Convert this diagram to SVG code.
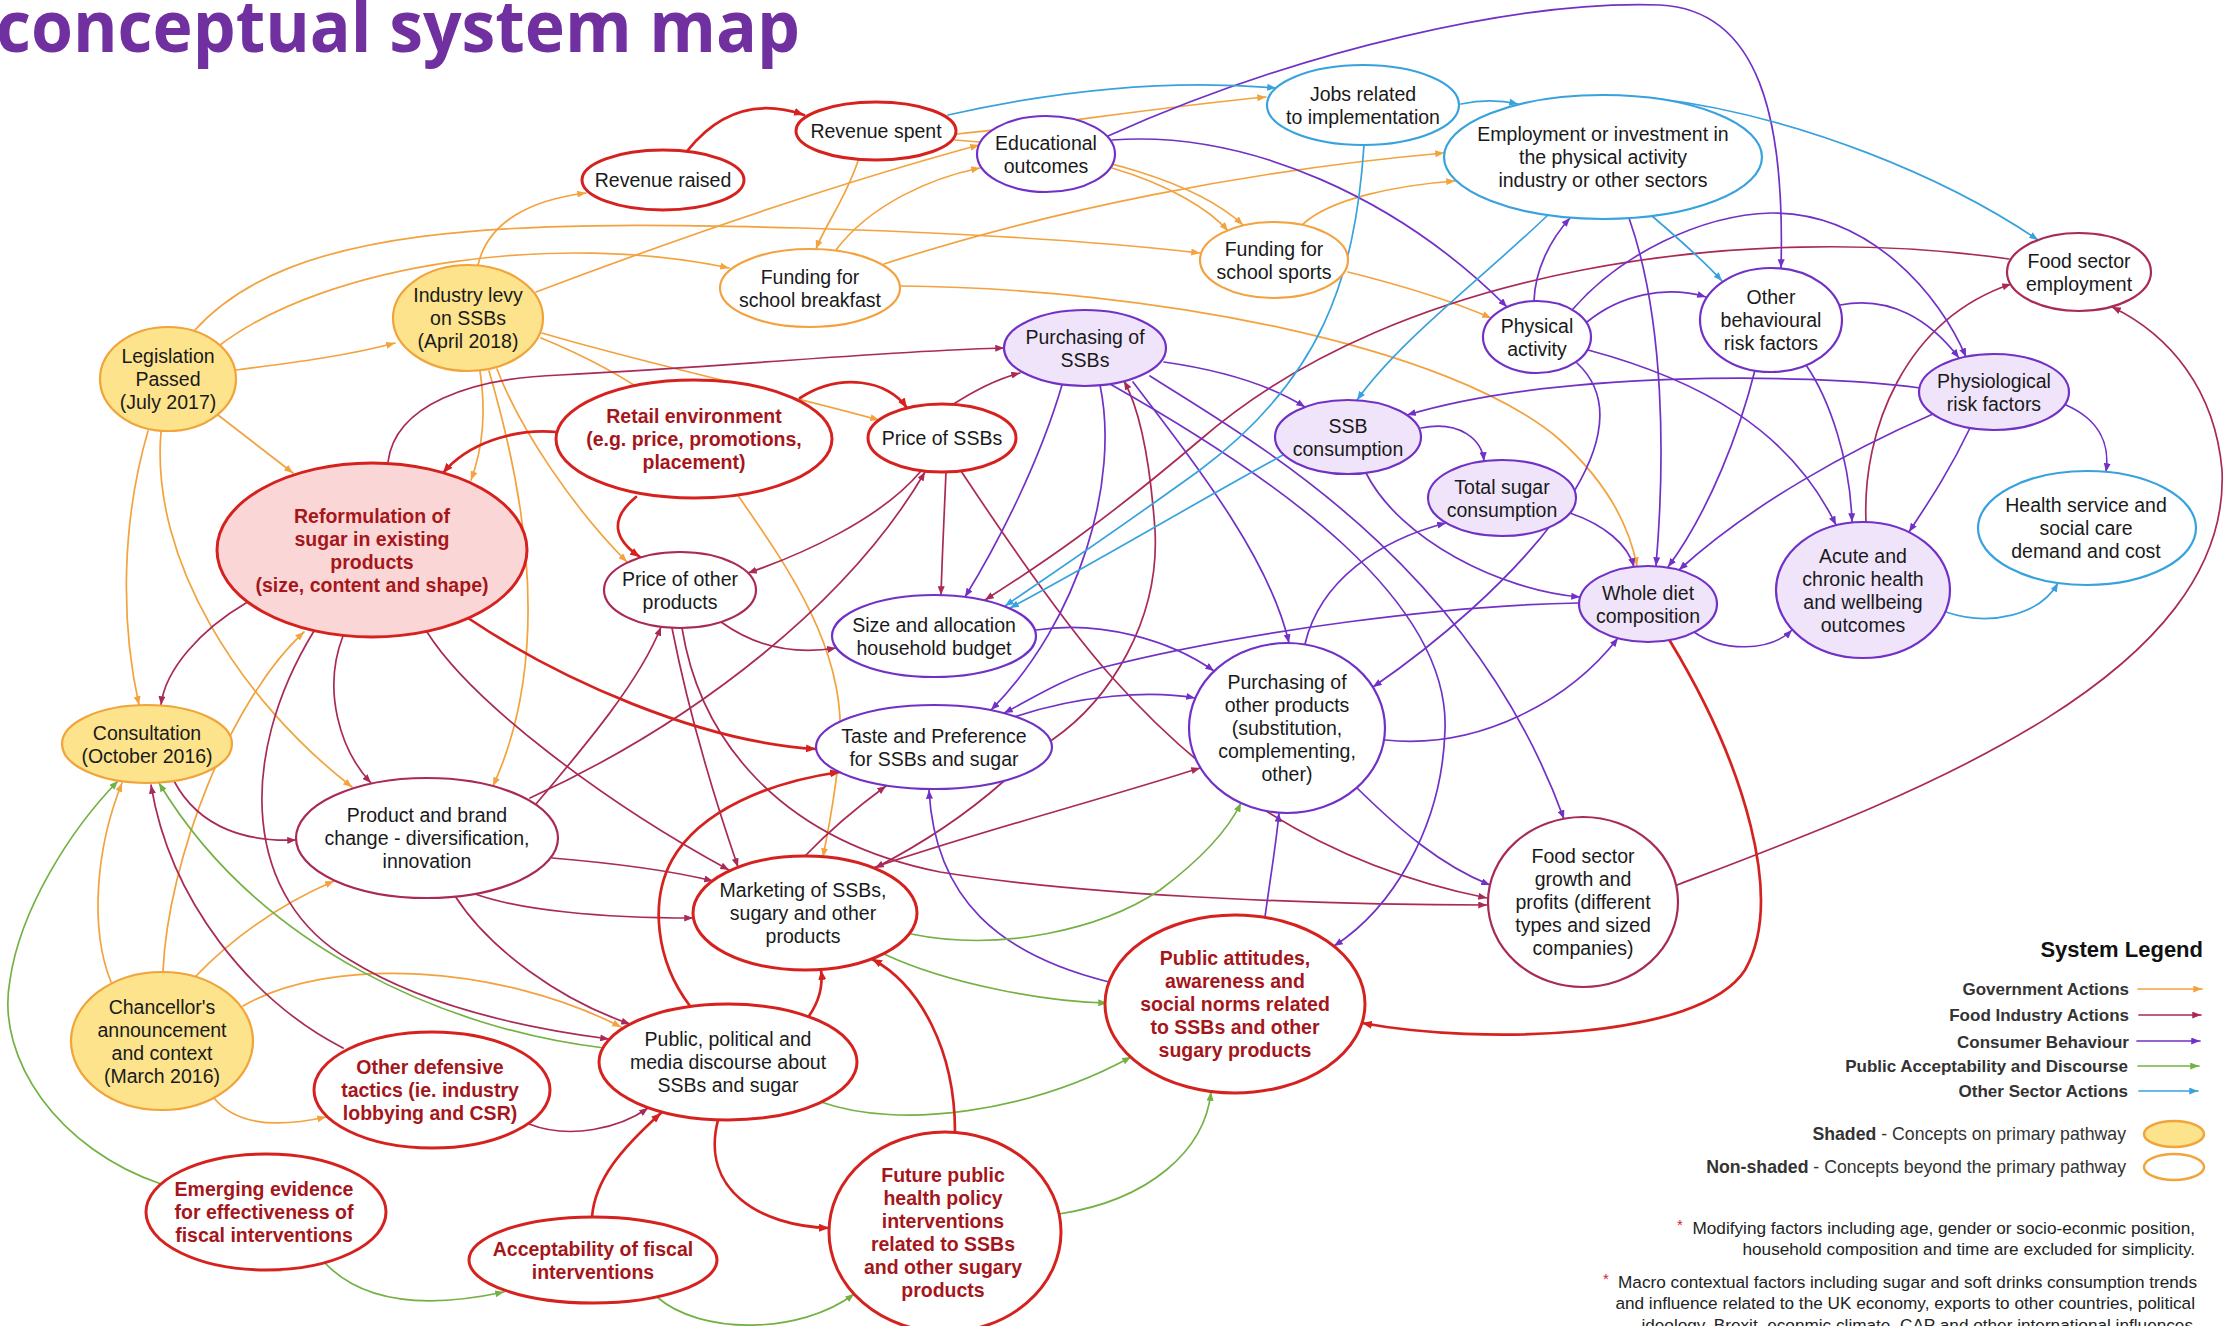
<svg xmlns="http://www.w3.org/2000/svg" width="2227" height="1326" viewBox="0 0 2227 1326">
<defs>
<style>
.e{fill:none;stroke-width:1.7;stroke-linecap:round}
.gov{stroke:#F3A23E;marker-end:url(#mk-gov)}
.food{stroke:#A92A57;marker-end:url(#mk-food)}
.cons{stroke:#7231C6;marker-end:url(#mk-cons)}
.pub{stroke:#74B144;marker-end:url(#mk-pub)}
.oth{stroke:#38A2DE;marker-end:url(#mk-oth)}
.red{stroke:#D6221F;stroke-width:2.7;marker-end:url(#mk-red)}
.nr{fill:#fff;stroke:#D6221F;stroke-width:3}
.nrf{fill:#FBD6D6;stroke:#D6221F;stroke-width:3}
.nf{fill:#fff;stroke:#A92A57;stroke-width:2.2}
.np{fill:#fff;stroke:#7231C6;stroke-width:2.2}
.nl{fill:#F0E4FA;stroke:#7231C6;stroke-width:2.2}
.nb{fill:#fff;stroke:#38A2DE;stroke-width:2.2}
.no{fill:#fff;stroke:#F3A23E;stroke-width:2.2}
.ny{fill:#FCE38C;stroke:#F0A43A;stroke-width:2.2}
.t{font-family:"Liberation Sans",Arial,sans-serif;font-size:19.5px;text-anchor:middle;fill:#1a1a1a}
.b{font-weight:bold;fill:#A5161B}
.lg{font-family:"Liberation Sans",Arial,sans-serif;font-size:17px;font-weight:bold;text-anchor:end;fill:#333}
.fn{font-family:"Liberation Sans",Arial,sans-serif;font-size:17.2px;text-anchor:end;fill:#222}
.sh{font-family:"Liberation Sans",Arial,sans-serif;font-size:17.7px;text-anchor:end;fill:#333}
.ast{font-family:"Liberation Sans",Arial,sans-serif;font-size:15px;fill:#D6221F}
</style>
<marker id="mk-gov" viewBox="0 0 10 8" refX="10" refY="4" markerWidth="9" markerHeight="7" markerUnits="userSpaceOnUse" orient="auto"><path d="M0,0 L10,4 L0,8 z" fill="#F3A23E"/></marker>
<marker id="mk-food" viewBox="0 0 10 8" refX="10" refY="4" markerWidth="9" markerHeight="7" markerUnits="userSpaceOnUse" orient="auto"><path d="M0,0 L10,4 L0,8 z" fill="#A92A57"/></marker>
<marker id="mk-cons" viewBox="0 0 10 8" refX="10" refY="4" markerWidth="9" markerHeight="7" markerUnits="userSpaceOnUse" orient="auto"><path d="M0,0 L10,4 L0,8 z" fill="#7231C6"/></marker>
<marker id="mk-pub" viewBox="0 0 10 8" refX="10" refY="4" markerWidth="9" markerHeight="7" markerUnits="userSpaceOnUse" orient="auto"><path d="M0,0 L10,4 L0,8 z" fill="#74B144"/></marker>
<marker id="mk-oth" viewBox="0 0 10 8" refX="10" refY="4" markerWidth="9" markerHeight="7" markerUnits="userSpaceOnUse" orient="auto"><path d="M0,0 L10,4 L0,8 z" fill="#38A2DE"/></marker>
<marker id="mk-red" viewBox="0 0 10 8" refX="10" refY="4" markerWidth="10" markerHeight="8" markerUnits="userSpaceOnUse" orient="auto"><path d="M0,0 L10,4 L0,8 z" fill="#D6221F"/></marker>
</defs>
<rect width="2227" height="1326" fill="#fff"/>

<text x="-4" y="52" font-family="'Open Sans','Noto Sans',sans-serif" font-weight="700" font-size="71" fill="#7030A0" textLength="804" lengthAdjust="spacingAndGlyphs">conceptual system map</text>

<g id="connectors">
<!-- government actions -->
<path class="e gov" d="M478,265 C488,222 530,200 586,193"/>
<path class="e gov" d="M195,330 C290,225 500,220 800,228 C1000,234 1130,245 1200,253"/>
<path class="e gov" d="M220,345 C330,262 560,232 729,268"/>
<path class="e gov" d="M236,370 C300,362 350,355 395,343"/>
<path class="e gov" d="M148,431 C122,520 120,620 139,705"/>
<path class="e gov" d="M161,432 C150,560 240,700 352,787"/>
<path class="e gov" d="M218,415 L293,473"/>
<path class="e gov" d="M536,292 C700,230 850,180 979,145"/>
<path class="e gov" d="M480,371 C486,410 484,445 471,480"/>
<path class="e gov" d="M489,371 C515,460 560,640 493,786"/>
<path class="e gov" d="M497,369 C520,430 575,510 627,562"/>
<path class="e gov" d="M541,338 C620,370 720,430 739,497 C790,570 845,650 840,740 C837,790 828,830 823,857"/>
<path class="e gov" d="M542,333 C650,365 790,395 879,420"/>
<path class="e gov" d="M957,134 C1050,125 1150,108 1266,97"/>
<path class="e gov" d="M858,161 C845,200 825,225 816,249"/>
<path class="e gov" d="M884,264 C1050,210 1250,170 1444,153"/>
<path class="e gov" d="M836,250 C870,205 930,178 980,168"/>
<path class="e gov" d="M1302,225 C1330,198 1400,185 1455,181"/>
<path class="e gov" d="M955,140 C1100,150 1200,185 1243,225"/>
<path class="e gov" d="M1112,168 C1170,185 1210,210 1228,231"/>
<path class="e gov" d="M1348,272 C1400,285 1450,300 1491,318"/>
<path class="e gov" d="M900,286 C1150,288 1450,345 1560,440 C1610,485 1630,530 1637,566"/>
<path class="e gov" d="M111,982 C90,930 95,850 122,783"/>
<path class="e gov" d="M163,971 C168,860 230,700 304,632"/>
<path class="e gov" d="M195,977 C240,930 290,900 334,881"/>
<path class="e gov" d="M243,1006 C330,955 500,965 621,1027"/>
<path class="e gov" d="M214,1098 C240,1130 290,1125 326,1117"/>

<!-- food industry actions -->
<path class="e food" d="M388,462 C395,405 470,378 560,375 C750,365 900,350 1004,348"/>
<path class="e food" d="M246,603 C200,630 165,670 161,705"/>
<path class="e food" d="M343,636 C322,690 340,750 371,783"/>
<path class="e food" d="M427,632 C470,700 600,800 729,870"/>
<path class="e food" d="M314,631 C235,760 245,900 350,960 C430,1010 540,1030 609,1039"/>
<path class="e food" d="M530,798 C700,720 850,600 925,472"/>
<path class="e food" d="M536,804 C590,740 640,680 661,627"/>
<path class="e food" d="M552,858 C600,862 660,868 713,881"/>
<path class="e food" d="M475,894 C520,910 600,918 693,918"/>
<path class="e food" d="M455,896 C490,950 560,1000 630,1024"/>
<path class="e food" d="M682,628 C700,740 780,840 940,872 C1100,898 1350,905 1487,905"/>
<path class="e food" d="M672,628 C690,720 715,800 738,867"/>
<path class="e food" d="M721,622 C760,650 800,654 836,648"/>
<path class="e food" d="M952,405 C975,390 1000,378 1020,373"/>
<path class="e food" d="M946,472 C944,520 942,560 941,595"/>
<path class="e food" d="M921,471 C880,520 800,555 748,573"/>
<path class="e food" d="M961,471 C1020,560 1070,630 1110,675 C1190,765 1300,860 1487,898"/>
<path class="e food" d="M2009,259 C1750,222 1400,265 1200,440 C1100,525 1040,565 985,600"/>
<path class="e food" d="M1677,885 C1900,800 2232,680 2222,470 C2215,390 2170,335 2112,307"/>
<path class="e food" d="M1866,522 C1862,430 1905,320 2011,284"/>
<path class="e food" d="M343,1048 C250,1000 170,900 151,785"/>
<path class="e food" d="M529,1124 C570,1140 620,1128 648,1108"/>
<path class="e food" d="M174,781 C200,830 250,842 296,840"/>
<path class="e food" d="M1052,740 C1110,700 1160,620 1155,530 C1150,460 1140,410 1124,381"/>
<path class="e food" d="M805,856 C830,830 860,805 886,786"/>
<path class="e food" d="M1004,781 C960,820 910,850 875,868"/>
<path class="e food" d="M873,868 C950,840 1100,800 1200,768"/>

<!-- consumer behaviour -->
<path class="e cons" d="M1112,140 C1250,130 1400,200 1507,307"/>
<path class="e cons" d="M1108,136 C1300,50 1520,0 1660,5 C1760,10 1785,120 1781,268"/>
<path class="e cons" d="M1164,362 C1220,370 1270,385 1305,407"/>
<path class="e cons" d="M1062,385 C1040,460 1000,540 965,597"/>
<path class="e cons" d="M1100,385 C1120,480 1080,620 991,710"/>
<path class="e cons" d="M1579,603 C1450,605 1250,630 1100,668 C1060,680 1030,700 1004,713"/>
<path class="e cons" d="M1014,717 C1080,695 1150,690 1195,698"/>
<path class="e cons" d="M1036,630 C1100,620 1170,640 1214,671"/>
<path class="e cons" d="M1133,382 C1200,470 1270,560 1289,643"/>
<path class="e cons" d="M1150,376 C1250,440 1470,560 1564,819"/>
<path class="e cons" d="M1110,384 C1280,480 1450,600 1445,730 C1442,830 1390,910 1334,946"/>
<path class="e cons" d="M1265,917 C1270,880 1276,845 1279,813"/>
<path class="e cons" d="M1109,982 C1000,955 935,900 929,790"/>
<path class="e cons" d="M1305,644 C1320,580 1380,540 1446,523"/>
<path class="e cons" d="M1385,740 C1480,750 1570,700 1618,638"/>
<path class="e cons" d="M1357,788 C1400,830 1440,865 1490,885"/>
<path class="e cons" d="M1366,473 C1400,540 1500,590 1580,597"/>
<path class="e cons" d="M1421,428 C1460,420 1482,440 1484,461"/>
<path class="e cons" d="M1570,513 C1605,525 1628,545 1634,567"/>
<path class="e cons" d="M1577,363 C1660,440 1500,600 1373,687"/>
<path class="e cons" d="M1629,218 C1665,320 1665,460 1656,566"/>
<path class="e cons" d="M1534,301 C1535,270 1550,240 1570,218"/>
<path class="e cons" d="M1573,309 C1620,255 1700,215 1771,213 C1870,212 1940,295 1966,357"/>
<path class="e cons" d="M1587,322 C1620,295 1665,285 1706,297"/>
<path class="e cons" d="M1588,350 C1700,380 1790,430 1836,525"/>
<path class="e cons" d="M1806,365 C1830,400 1850,460 1852,522"/>
<path class="e cons" d="M1755,370 C1740,430 1710,510 1668,567"/>
<path class="e cons" d="M1933,414 C1850,450 1750,505 1679,570"/>
<path class="e cons" d="M1970,428 C1950,470 1930,500 1909,532"/>
<path class="e cons" d="M1920,388 C1800,372 1550,372 1407,415"/>
<path class="e cons" d="M2066,405 C2100,420 2110,445 2106,472"/>
<path class="e cons" d="M1840,305 C1890,295 1930,320 1959,358"/>
<path class="e cons" d="M1694,632 C1722,652 1770,652 1792,630"/>

<!-- public acceptability and discourse -->
<path class="e pub" d="M161,1184 C60,1150 -5,1060 10,980 C20,910 70,830 118,781"/>
<path class="e pub" d="M604,1048 C450,1030 260,950 159,783"/>
<path class="e pub" d="M911,934 C1000,952 1100,930 1160,890 C1200,860 1228,830 1241,803"/>
<path class="e pub" d="M884,954 C950,985 1050,1002 1107,1003"/>
<path class="e pub" d="M821,1102 C900,1130 1030,1112 1131,1057"/>
<path class="e pub" d="M1059,1214 C1150,1200 1205,1150 1211,1092"/>
<path class="e pub" d="M657,1297 C700,1335 800,1335 854,1294"/>
<path class="e pub" d="M325,1263 C360,1300 420,1310 504,1292"/>

<!-- other sector actions -->
<path class="e oth" d="M948,115 C1050,92 1160,78 1276,88"/>
<path class="e oth" d="M1461,104 C1480,100 1500,100 1518,104"/>
<path class="e oth" d="M1652,98 C1800,115 1950,180 2038,240"/>
<path class="e oth" d="M1652,216 C1680,240 1705,262 1722,281"/>
<path class="e oth" d="M1548,215 C1480,280 1400,340 1357,400"/>
<path class="e oth" d="M1364,145 C1355,280 1320,380 1200,470 C1110,535 1050,575 1005,606"/>
<path class="e oth" d="M1283,455 C1200,500 1100,560 1010,608"/>
<path class="e oth" d="M1946,612 C1990,627 2040,615 2058,583"/>

<!-- primary red links -->
<path class="e red" d="M688,150 C720,110 760,100 804,115"/>
<path class="e red" d="M557,432 C515,428 468,443 443,473"/>
<path class="e red" d="M800,398 C840,372 888,380 907,408"/>
<path class="e red" d="M636,497 C608,520 615,540 640,557"/>
<path class="e red" d="M468,618 C560,680 700,742 816,749"/>
<path class="e red" d="M690,1006 C655,960 650,900 672,860 C700,810 770,782 840,772"/>
<path class="e red" d="M809,1016 C820,1000 823,985 821,970"/>
<path class="e red" d="M718,1120 C700,1190 760,1226 829,1228"/>
<path class="e red" d="M955,1132 C955,1050 920,985 872,959"/>
<path class="e red" d="M592,1217 C595,1180 620,1150 661,1113"/>
<path class="e red" d="M1670,641 C1745,765 1785,900 1745,970 C1700,1040 1480,1045 1362,1023"/>
</g>

<g id="n-revenue-raised"><ellipse class="nr" cx="663" cy="180" rx="81" ry="30"/><text class="t"><tspan x="663" y="187">Revenue raised</tspan></text></g>
<g id="n-revenue-spent"><ellipse class="nr" cx="876" cy="131" rx="80" ry="29"/><text class="t"><tspan x="876" y="138">Revenue spent</tspan></text></g>
<g id="n-educational-outcomes"><ellipse class="np" cx="1046" cy="154" rx="69" ry="38"/><text class="t"><tspan x="1046" y="149.5">Educational</tspan><tspan x="1046" y="172.5">outcomes</tspan></text></g>
<g id="n-jobs"><ellipse class="nb" cx="1363" cy="105" rx="96" ry="40"/><text class="t"><tspan x="1363" y="100.5">Jobs related</tspan><tspan x="1363" y="123.5">to implementation</tspan></text></g>
<g id="n-employment"><ellipse class="nb" cx="1603" cy="157" rx="159" ry="62"/><text class="t"><tspan x="1603" y="141">Employment or investment in</tspan><tspan x="1603" y="164">the physical activity</tspan><tspan x="1603" y="187">industry or other sectors</tspan></text></g>
<g id="n-funding-sports"><ellipse class="no" cx="1274" cy="260" rx="74" ry="38"/><text class="t"><tspan x="1274" y="255.5">Funding for</tspan><tspan x="1274" y="278.5">school sports</tspan></text></g>
<g id="n-funding-breakfast"><ellipse class="no" cx="810" cy="288" rx="90" ry="39"/><text class="t"><tspan x="810" y="283.5">Funding for</tspan><tspan x="810" y="306.5">school breakfast</tspan></text></g>
<g id="n-industry-levy"><ellipse class="ny" cx="468" cy="318" rx="75" ry="53"/><text class="t"><tspan x="468" y="302">Industry levy</tspan><tspan x="468" y="325">on SSBs</tspan><tspan x="468" y="348">(April 2018)</tspan></text></g>
<g id="n-legislation"><ellipse class="ny" cx="168" cy="379" rx="68" ry="52"/><text class="t"><tspan x="168" y="363">Legislation</tspan><tspan x="168" y="386">Passed</tspan><tspan x="168" y="409">(July 2017)</tspan></text></g>
<g id="n-purchasing-ssbs"><ellipse class="nl" cx="1085" cy="348" rx="81" ry="38"/><text class="t"><tspan x="1085" y="343.5">Purchasing of</tspan><tspan x="1085" y="366.5">SSBs</tspan></text></g>
<g id="n-retail"><ellipse class="nr" cx="694" cy="439" rx="138" ry="59"/><text class="t b"><tspan x="694" y="423">Retail environment</tspan><tspan x="694" y="446">(e.g. price, promotions,</tspan><tspan x="694" y="469">placement)</tspan></text></g>
<g id="n-price-ssbs"><ellipse class="nr" cx="942" cy="438" rx="74" ry="34"/><text class="t"><tspan x="942" y="445">Price of SSBs</tspan></text></g>
<g id="n-reformulation"><ellipse class="nrf" cx="372" cy="550" rx="155" ry="87"/><text class="t b"><tspan x="372" y="522.5">Reformulation of</tspan><tspan x="372" y="545.5">sugar in existing</tspan><tspan x="372" y="568.5">products</tspan><tspan x="372" y="591.5">(size, content and shape)</tspan></text></g>
<g id="n-price-other"><ellipse class="nf" cx="680" cy="590" rx="76" ry="38"/><text class="t"><tspan x="680" y="585.5">Price of other</tspan><tspan x="680" y="608.5">products</tspan></text></g>
<g id="n-budget"><ellipse class="np" cx="934" cy="636" rx="102" ry="41"/><text class="t"><tspan x="934" y="631.5">Size and allocation</tspan><tspan x="934" y="654.5">household budget</tspan></text></g>
<g id="n-taste"><ellipse class="np" cx="934" cy="747" rx="118" ry="42"/><text class="t"><tspan x="934" y="742.5">Taste and Preference</tspan><tspan x="934" y="765.5">for SSBs and sugar</tspan></text></g>
<g id="n-ssb-consumption"><ellipse class="nl" cx="1348" cy="437" rx="73" ry="37"/><text class="t"><tspan x="1348" y="432.5">SSB</tspan><tspan x="1348" y="455.5">consumption</tspan></text></g>
<g id="n-total-sugar"><ellipse class="nl" cx="1502" cy="498" rx="74" ry="38"/><text class="t"><tspan x="1502" y="493.5">Total sugar</tspan><tspan x="1502" y="516.5">consumption</tspan></text></g>
<g id="n-physical-activity"><ellipse class="np" cx="1537" cy="337" rx="54" ry="36"/><text class="t"><tspan x="1537" y="332.5">Physical</tspan><tspan x="1537" y="355.5">activity</tspan></text></g>
<g id="n-other-behavioural"><ellipse class="np" cx="1771" cy="320" rx="71" ry="52"/><text class="t"><tspan x="1771" y="304">Other</tspan><tspan x="1771" y="327">behavioural</tspan><tspan x="1771" y="350">risk factors</tspan></text></g>
<g id="n-food-employment"><ellipse class="nf" cx="2079" cy="272" rx="72" ry="39"/><text class="t"><tspan x="2079" y="267.5">Food sector</tspan><tspan x="2079" y="290.5">employment</tspan></text></g>
<g id="n-physiological"><ellipse class="nl" cx="1994" cy="392" rx="75" ry="38"/><text class="t"><tspan x="1994" y="387.5">Physiological</tspan><tspan x="1994" y="410.5">risk factors</tspan></text></g>
<g id="n-whole-diet"><ellipse class="nl" cx="1648" cy="604" rx="69" ry="38"/><text class="t"><tspan x="1648" y="599.5">Whole diet</tspan><tspan x="1648" y="622.5">composition</tspan></text></g>
<g id="n-acute"><ellipse class="nl" cx="1863" cy="590" rx="87" ry="68"/><text class="t"><tspan x="1863" y="562.5">Acute and</tspan><tspan x="1863" y="585.5">chronic health</tspan><tspan x="1863" y="608.5">and wellbeing</tspan><tspan x="1863" y="631.5">outcomes</tspan></text></g>
<g id="n-health-service"><ellipse class="nb" cx="2087" cy="528" rx="109" ry="57"/><text class="t"><tspan x="2086" y="512">Health service and</tspan><tspan x="2086" y="535">social care</tspan><tspan x="2086" y="558">demand and cost</tspan></text></g>
<g id="n-purchasing-other"><ellipse class="np" cx="1287" cy="728" rx="98" ry="85"/><text class="t"><tspan x="1287" y="689">Purchasing of</tspan><tspan x="1287" y="712">other products</tspan><tspan x="1287" y="735">(substitution,</tspan><tspan x="1287" y="758">complementing,</tspan><tspan x="1287" y="781">other)</tspan></text></g>
<g id="n-food-growth"><ellipse class="nf" cx="1583" cy="902" rx="95" ry="85"/><text class="t"><tspan x="1583" y="863">Food sector</tspan><tspan x="1583" y="886">growth and</tspan><tspan x="1583" y="909">profits (different</tspan><tspan x="1583" y="932">types and sized</tspan><tspan x="1583" y="955">companies)</tspan></text></g>
<g id="n-consultation"><ellipse class="ny" cx="147" cy="744" rx="85" ry="39"/><text class="t"><tspan x="147" y="739.5">Consultation</tspan><tspan x="147" y="762.5">(October 2016)</tspan></text></g>
<g id="n-product-brand"><ellipse class="nf" cx="427" cy="838" rx="131" ry="60"/><text class="t"><tspan x="427" y="822">Product and brand</tspan><tspan x="427" y="845">change - diversification,</tspan><tspan x="427" y="868">innovation</tspan></text></g>
<g id="n-marketing"><ellipse class="nr" cx="805" cy="913" rx="112" ry="57"/><text class="t"><tspan x="803" y="897">Marketing of SSBs,</tspan><tspan x="803" y="920">sugary and other</tspan><tspan x="803" y="943">products</tspan></text></g>
<g id="n-discourse"><ellipse class="nr" cx="728" cy="1062" rx="129" ry="58"/><text class="t"><tspan x="728" y="1046">Public, political and</tspan><tspan x="728" y="1069">media discourse about</tspan><tspan x="728" y="1092">SSBs and sugar</tspan></text></g>
<g id="n-attitudes"><ellipse class="nr" cx="1235" cy="1004" rx="130" ry="89"/><text class="t b"><tspan x="1235" y="965">Public attitudes,</tspan><tspan x="1235" y="988">awareness and</tspan><tspan x="1235" y="1011">social norms related</tspan><tspan x="1235" y="1034">to SSBs and other</tspan><tspan x="1235" y="1057">sugary products</tspan></text></g>
<g id="n-future-policy"><ellipse class="nr" cx="945" cy="1232" rx="116" ry="100"/><text class="t b"><tspan x="943" y="1182">Future public</tspan><tspan x="943" y="1205">health policy</tspan><tspan x="943" y="1228">interventions</tspan><tspan x="943" y="1251">related to SSBs</tspan><tspan x="943" y="1274">and other sugary</tspan><tspan x="943" y="1297">products</tspan></text></g>
<g id="n-acceptability"><ellipse class="nr" cx="593" cy="1260" rx="124" ry="43"/><text class="t b"><tspan x="593" y="1255.5">Acceptability of fiscal</tspan><tspan x="593" y="1278.5">interventions</tspan></text></g>
<g id="n-evidence"><ellipse class="nr" cx="266" cy="1212" rx="120" ry="58"/><text class="t b"><tspan x="264" y="1196">Emerging evidence</tspan><tspan x="264" y="1219">for effectiveness of</tspan><tspan x="264" y="1242">fiscal interventions</tspan></text></g>
<g id="n-defensive"><ellipse class="nr" cx="432" cy="1090" rx="118" ry="58"/><text class="t b"><tspan x="430" y="1074">Other defensive</tspan><tspan x="430" y="1097">tactics (ie. industry</tspan><tspan x="430" y="1120">lobbying and CSR)</tspan></text></g>
<g id="n-chancellor"><ellipse class="ny" cx="162" cy="1041" rx="91" ry="69"/><text class="t"><tspan x="162" y="1013.5">Chancellor's</tspan><tspan x="162" y="1036.5">announcement</tspan><tspan x="162" y="1059.5">and context</tspan><tspan x="162" y="1082.5">(March 2016)</tspan></text></g>

<g id="legend">
<text x="2203" y="957" font-family="'Liberation Sans',Arial,sans-serif" font-size="22" font-weight="bold" text-anchor="end" fill="#111">System Legend</text>
<text class="lg" x="2129" y="995">Government Actions</text>
<path class="e gov" d="M2138,989 L2202,989"/>
<text class="lg" x="2129" y="1021">Food Industry Actions</text>
<path class="e food" d="M2139,1015 L2201,1015"/>
<text class="lg" x="2129" y="1048">Consumer Behaviour</text>
<path class="e cons" d="M2137,1041 L2200,1041"/>
<text class="lg" x="2128" y="1072">Public Acceptability and Discourse</text>
<path class="e pub" d="M2138,1066 L2199,1066"/>
<text class="lg" x="2128" y="1097">Other Sector Actions</text>
<path class="e oth" d="M2139,1091 L2198,1091"/>
<text class="sh" x="2126" y="1140"><tspan font-weight="bold">Shaded</tspan> - Concepts on primary pathway</text>
<ellipse cx="2174" cy="1134" rx="30" ry="13" fill="#FCE38C" stroke="#F0A43A" stroke-width="2.5"/>
<text class="sh" x="2126" y="1173"><tspan font-weight="bold">Non-shaded</tspan> - Concepts beyond the primary pathway</text>
<ellipse cx="2174" cy="1167" rx="30" ry="13" fill="#fff" stroke="#F0A43A" stroke-width="2.5"/>
</g>

<g id="notes">
<text class="ast" x="1677" y="1230">*</text>
<text class="fn" x="2195" y="1234">Modifying factors including age, gender or socio-econmic position,</text>
<text class="fn" x="2195" y="1255">household composition and time are excluded for simplicity.</text>
<text class="ast" x="1603" y="1284">*</text>
<text class="fn" x="2197" y="1288">Macro contextual factors including sugar and soft drinks consumption trends</text>
<text class="fn" x="2195" y="1309">and influence related to the UK economy, exports to other countries, political</text>
<text class="fn" x="2193" y="1331">ideology, Brexit, econmic climate, CAP and other international influences</text>
</g>
</svg>
